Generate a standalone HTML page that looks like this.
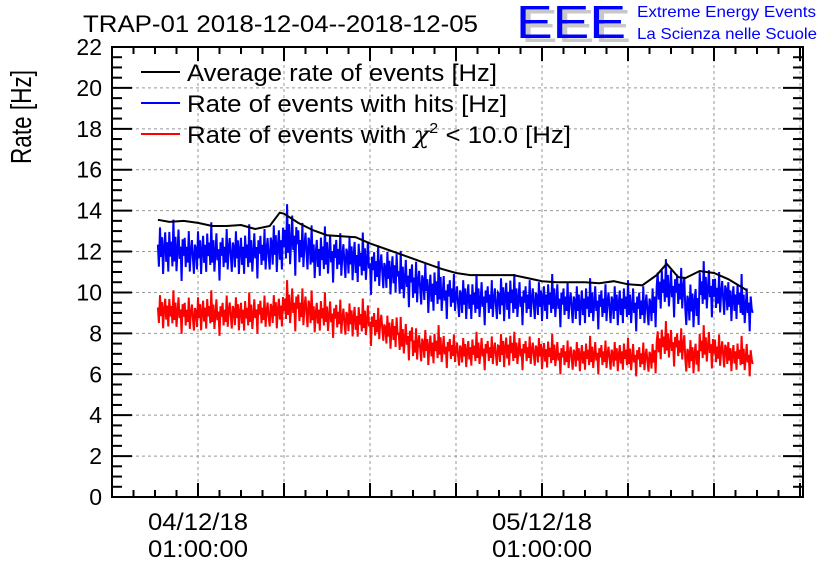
<!DOCTYPE html>
<html><head><meta charset="utf-8"><style>
body{margin:0;background:#fff;}
svg{display:block;font-family:"Liberation Sans",Arial,sans-serif;}
</style></head><body>
<svg id="chart" width="836" height="572" viewBox="0 0 836 572" xmlns="http://www.w3.org/2000/svg">
<rect x="0" y="0" width="836" height="572" fill="#fff"/>
<text x="83" y="32" font-size="24" fill="#000" textLength="395" lengthAdjust="spacingAndGlyphs">TRAP-01 2018-12-04--2018-12-05</text>
<g>
<text x="521" y="42" font-size="46" fill="#c8c8c8" textLength="110" lengthAdjust="spacingAndGlyphs">EEE</text>
<text x="516" y="38" font-size="46" fill="#0000ff" textLength="110" lengthAdjust="spacingAndGlyphs">EEE</text>
<text x="637" y="17" font-size="16" fill="#0000ff" textLength="179" lengthAdjust="spacingAndGlyphs">Extreme Energy Events</text>
<text x="637" y="39" font-size="16" fill="#0000ff" textLength="180" lengthAdjust="spacingAndGlyphs">La Scienza nelle Scuole</text>
</g>
<text transform="translate(31,117) rotate(-90)" text-anchor="middle" font-size="29" fill="#000" textLength="94" lengthAdjust="spacingAndGlyphs">Rate [Hz]</text>
<g id="grid"></g>
<g id="axes"></g>
<g id="series"></g>
<g>
<line x1="141" y1="72" x2="180" y2="72" stroke="#000" stroke-width="2"/>
<text x="187" y="81" font-size="24" fill="#000" textLength="310" lengthAdjust="spacingAndGlyphs">Average rate of events [Hz]</text>
<line x1="141" y1="103" x2="180" y2="103" stroke="#0000ff" stroke-width="2"/>
<text x="187" y="112" font-size="24" fill="#000" textLength="320" lengthAdjust="spacingAndGlyphs">Rate of events with hits [Hz]</text>
<line x1="141" y1="134" x2="180" y2="134" stroke="#ff0000" stroke-width="2"/>
<text x="187" y="143" font-size="24" fill="#000" textLength="384" lengthAdjust="spacingAndGlyphs">Rate of events with <tspan font-family="'DejaVu Serif',serif" font-style="italic">χ</tspan><tspan font-size="15" dy="-10">2</tspan><tspan dy="10"> &lt; 10.0 [Hz]</tspan></text>
</g>
</svg>
<script>
// hours since 2018-12-03 19:00
const avgHours=[3.2,4,5,6,7,8,9,10,11,11.7,12,13,14,15,16,17,18,19,20,21,22,23,24,25,26,27,28,29,30,31,32,33,34,35,36,37,38,38.7,39.5,40,41,42,43,44.3];
const avgRate=[13.55,13.45,13.5,13.4,13.25,13.25,13.3,13.1,13.25,13.9,13.85,13.4,13.05,12.8,12.75,12.7,12.4,12.15,11.9,11.65,11.4,11.15,10.95,10.85,10.85,10.85,10.85,10.7,10.55,10.5,10.5,10.5,10.45,10.55,10.4,10.35,10.85,11.4,10.75,10.7,11.05,10.95,10.65,10.1];
const binHours=[3.2,4,5,6,7,8,9,10,11,12,13,14,15,16,17,18,19,20,21,22,23,24,25,26,27,28,29,30,31,32,33,34,35,36,37,38,39,40,41,42,43,44,44.7];
const hitsMid=[12.1,12.0,11.9,12.0,11.9,12.0,11.9,12.0,12.2,12.5,12.2,11.8,11.8,11.7,11.5,11.2,11.0,10.6,10.4,10.1,9.9,9.7,9.6,9.6,9.7,9.6,9.6,9.6,9.5,9.4,9.4,9.4,9.4,9.3,9.3,10.2,10.1,9.4,10.1,9.9,9.6,9.3,9.0];
const hitsSpread=[1.2,1.2,1.1,1.1,1.1,1.1,1.1,1.1,1.2,1.4,1.2,1.1,1.1,1.1,1.1,1.1,1.1,1.1,1.1,1.1,1.0,1.0,1.0,1.0,1.1,1.0,1.0,1.0,1.0,1.0,1.0,1.0,1.0,1.0,1.0,1.1,1.1,1.1,1.1,1.1,1.0,1.0,0.9];
const chiMid=[9.1,9.0,8.9,9.0,8.9,9.0,8.9,9.0,9.1,9.3,9.2,8.9,8.8,8.7,8.6,8.4,8.1,7.7,7.4,7.3,7.2,7.1,7.1,7.1,7.2,7.1,7.1,7.0,6.9,6.9,6.9,6.9,6.9,6.8,6.8,7.5,7.4,6.9,7.3,7.1,6.9,6.8,6.5];
const chiSpread=[0.85,0.85,0.85,0.85,0.85,0.85,0.85,0.85,0.85,1.0,1.0,0.85,0.85,0.85,0.85,0.85,0.85,0.85,0.85,0.85,0.75,0.75,0.75,0.75,0.85,0.75,0.75,0.75,0.75,0.75,0.75,0.75,0.75,0.75,0.75,0.85,0.85,0.85,0.85,0.85,0.75,0.75,0.6];
const yTicks=[0,2,4,6,8,10,12,14,16,18,20,22];
const xLabelHours=[6,30];
const xLabelDates=["04/12/18","05/12/18"];
const xLabelTimes=["01:00:00","01:00:00"];

const NS="http://www.w3.org/2000/svg";
const L=112,R=803,T=47,B=497,YMAX=22,HMAX=(R-L)/14.333;
const xs=h=>L+h*(R-L)/HMAX;
const ys=v=>B-v*(B-T)/YMAX;
function mk(tag,attrs,parent){const e=document.createElementNS(NS,tag);for(const k in attrs)e.setAttribute(k,attrs[k]);parent.appendChild(e);return e;}
const grid=document.getElementById('grid'),axes=document.getElementById('axes'),series=document.getElementById('series');
yTicks.forEach(v=>{if(v>0&&v<YMAX){const g=mk('line',{x1:L,x2:R,y1:ys(v),y2:ys(v),stroke:'#999','stroke-dasharray':'3,3','stroke-width':1},grid);

}});
for(let h=6;h<HMAX;h+=6){const g=mk('line',{x1:xs(h),x2:xs(h),y1:T,y2:B,stroke:'#999','stroke-dasharray':'3,3','stroke-width':1},grid);

}
const fr=mk('rect',{x:L,y:T,width:R-L,height:B-T,fill:'none',stroke:'#000','stroke-width':2},axes);


for(let v=0;v<=YMAX+1e-9;v+=0.5){const major=Math.abs(v/2-Math.round(v/2))<1e-9;const len=major?20:10;
mk('line',{x1:L,x2:L+len,y1:ys(v),y2:ys(v),stroke:'#000','stroke-width':2},axes);
mk('line',{x1:R,x2:R-len,y1:ys(v),y2:ys(v),stroke:'#000','stroke-width':2},axes);}
yTicks.forEach(v=>{const t=mk('text',{x:L-10,y:ys(v)+8,'text-anchor':'end','font-size':23,fill:'#000'},axes);t.textContent=v;

});
for(let h=0;h<HMAX;h+=1.5){const major=Math.abs(h/6-Math.round(h/6))<1e-9;const len=major?14:7;
mk('line',{x1:xs(h),x2:xs(h),y1:B,y2:B-len,stroke:'#000','stroke-width':2},axes);
mk('line',{x1:xs(h),x2:xs(h),y1:T,y2:T+len,stroke:'#000','stroke-width':2},axes);}
xLabelHours.forEach((h,i)=>{const a=mk('text',{x:xs(h),y:530,'text-anchor':'middle','font-size':24,fill:'#000',textLength:100,lengthAdjust:'spacingAndGlyphs'},axes);a.textContent=xLabelDates[i];


const b=mk('text',{x:xs(h),y:557,'text-anchor':'middle','font-size':24,fill:'#000',textLength:100,lengthAdjust:'spacingAndGlyphs'},axes);b.textContent=xLabelTimes[i];

});
const tex=[0.2,-0.7,0.9,-0.3,0.5,-1,0.1,0.7,-0.5,0.3,-0.9,0.8,-0.2,0.4,-0.6,1.3,-0.4,0.6,-0.8,0.0,0.9,-0.3,0.2,-1.2,0.5,-0.1,0.7,-0.6,0.3,-0.4,1.0,-0.8,0.1,0.6,-0.2,-0.9,0.4];
function noisy(mid,spr,color,name){let pts=[],k=0;
for(let i=0;i<binHours.length-1;i++){const h0=binHours[i],h1=binHours[i+1];const n=Math.max(4,Math.round((h1-h0)*14));
for(let j=0;j<n;j++){const h=h0+(h1-h0)*j/n;const v=mid[i]+spr[i]*tex[k%tex.length];k++;pts.push(xs(h).toFixed(1)+','+ys(v).toFixed(1));}}
const li=binHours.length-1;pts.push(xs(binHours[li]).toFixed(1)+','+ys(mid[li]).toFixed(1));
const p=mk('polyline',{points:pts.join(' '),fill:'none',stroke:color,'stroke-width':2},series);

}
noisy(hitsMid,hitsSpread,'#0000ff','hits-rate-line');
noisy(chiMid,chiSpread,'#ff0000','chi2-rate-line');
const ap=mk('polyline',{points:avgHours.map((h,i)=>xs(h).toFixed(1)+','+ys(avgRate[i]).toFixed(1)).join(' '),fill:'none',stroke:'#000','stroke-width':2},series);


</script>
</body></html>
